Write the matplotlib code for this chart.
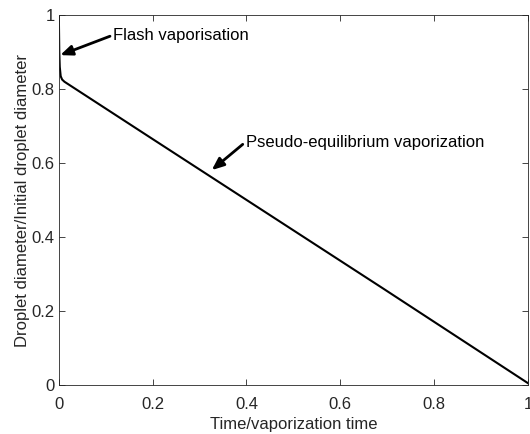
import matplotlib.pyplot as plt

plt.rcParams["font.family"] = ["Liberation Sans", "DejaVu Sans"]

# normalised droplet history: flash stage, then near-linear shrink
time_norm = [0.0, 0.0005, 0.001, 0.002, 0.004, 0.007, 0.012, 0.2, 0.69, 1.0]
diam_norm = [1.0, 0.95, 0.90, 0.86, 0.835, 0.826, 0.820, 0.665, 0.262, 0.005]

ticks = [0, 0.2, 0.4, 0.6, 0.8, 1]
tick_labels = ["0", "0.2", "0.4", "0.6", "0.8", "1"]

axis_col = "#262626"

fig = plt.figure(figsize=(5.3, 4.34), dpi=100)
ax = fig.add_axes([0.111, 0.113, 0.885, 0.852])

ax.plot(time_norm, diam_norm, color="black", lw=1.5)

ax.set_xlim(0, 1)
ax.set_ylim(0, 1)
ax.set_xticks(ticks)
ax.set_xticklabels(tick_labels)
ax.set_yticks(ticks)
ax.set_yticklabels(tick_labels)
ax.tick_params(direction="in", top=True, right=True, length=4, width=0.6,
               colors=axis_col, labelsize=12, labelcolor=axis_col)
ax.tick_params(axis="x", pad=9)
ax.tick_params(axis="y", pad=3)
for s in ax.spines.values():
    s.set_color(axis_col)
    s.set_linewidth(0.6)

ax.set_xlabel("Time/vaporization time", fontsize=12, color=axis_col, labelpad=3)
ax.set_ylabel("Droplet diameter/Initial droplet diameter", fontsize=12,
              color=axis_col, labelpad=1)

arrow = dict(arrowstyle="-|>,head_length=0.6,head_width=0.25", color="black",
             lw=2, shrinkA=0, shrinkB=0, relpos=(0, 0.5))
ax.annotate("Flash vaporisation", xy=(0.003, 0.892), xytext=(0.115, 0.946),
            fontsize=12, va="center", ha="left", arrowprops=arrow)
ax.annotate("Pseudo-equilibrium vaporization", xy=(0.326, 0.581),
            xytext=(0.398, 0.657), fontsize=12, va="center", ha="left",
            arrowprops=arrow)

fig.savefig("out.png", dpi=100)
